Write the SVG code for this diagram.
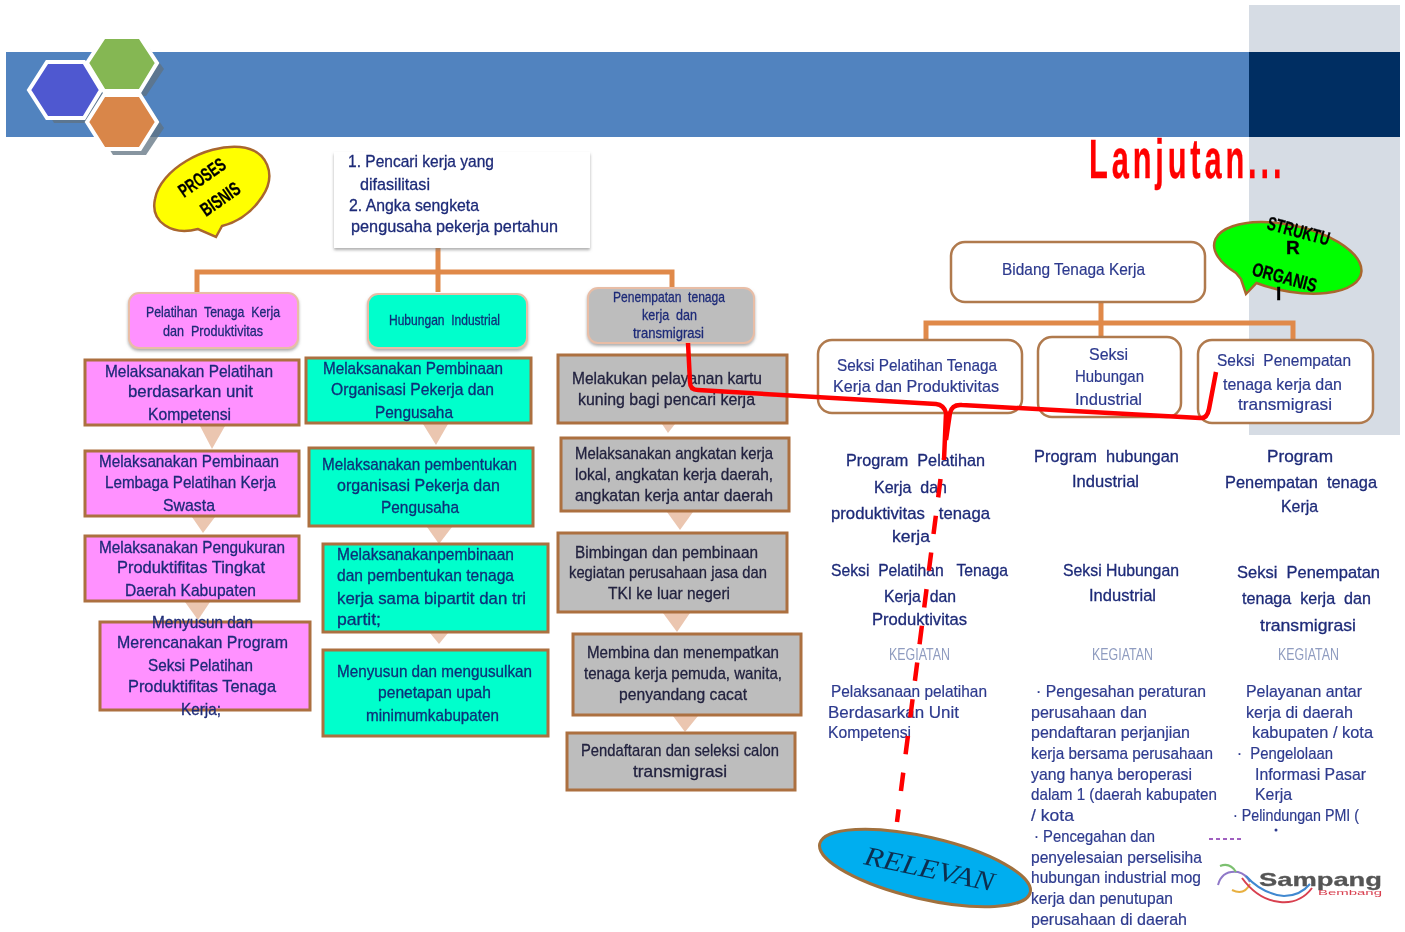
<svg xmlns="http://www.w3.org/2000/svg" width="1405" height="932" viewBox="0 0 1405 932">
<style>
text{font-family:"Liberation Sans",Arial,sans-serif;font-size:17px;fill:#1d2a78;stroke:#1d2a78;stroke-width:.3;white-space:pre}
.h{font-size:15px}
.k{font-size:16px;fill:#8f9cc0;stroke:none}
.d{fill:#22223f;stroke:#22223f}
.t{fill:#0c2f78;stroke:#0c2f78}
.r{fill:#2d3a8e;stroke:#2d3a8e;stroke-width:.2}
.b{font-weight:bold;fill:#000;stroke:#000;font-size:19px}
.box{stroke:#ac6f3f;stroke-width:3}
.pink{fill:#ff91ff}.teal{fill:#00ffcc}.gray{fill:#bdbdbd}
.head{stroke:#e8bda6;stroke-width:2;filter:url(#sh)}
.sec{fill:#fff;stroke:#b07a4e;stroke-width:2.5}
.tri{fill:#ebc6b0}
.or{fill:none;stroke:#e0894a;stroke-width:5}
.red{fill:none;stroke:#ff0000;stroke-width:4.5}
.hex{stroke:#fff;stroke-width:4}
.hs{fill:#5f7280;opacity:.75}
</style>
<defs>
<filter id="soft" x="0" y="0" width="1405" height="932" filterUnits="userSpaceOnUse"><feGaussianBlur stdDeviation="0.6"/></filter>
<filter id="sh" x="-10%" y="-10%" width="120%" height="125%"><feDropShadow dx="0" dy="2" stdDeviation="1.5" flood-color="#777" flood-opacity=".6"/></filter>
</defs>
<rect width="1405" height="932" fill="#fff"/>
<g filter="url(#soft)">
<g id="header">
<rect x="1249" y="5" width="151" height="430" fill="#d6dce4"/>
<rect x="6" y="52" width="1243" height="85" fill="#5183bf"/>
<rect x="1249" y="52" width="151" height="85" fill="#002d62"/>
<polygon class="hs" points="38,96 54,70 88,70 105,96 88,123 54,123"/>
<polygon class="hs" points="96,69 113,44 146,44 164,69 146,96 113,96"/>
<polygon class="hs" points="96,128 113,102 146,102 164,128 146,155 113,155"/>
<polygon class="hex" fill="#4f59d0" points="29,90 47,62 84,62 101,90 84,118 47,118"/>
<polygon class="hex" fill="#85b752" points="87,63 104,37 140,37 157,63 140,91 104,91"/>
<polygon class="hex" fill="#d9864a" points="87,122 104,95 140,95 157,122 140,149 104,149"/>
</g>
<g id="bubble-proses">
<path d="M222,226 L216,237 L198,229 C172,236 150,222 155,199 C160,170 205,144 240,147 C268,150 277,175 262,197 C252,212 238,222 222,226 Z" fill="#ffff00" stroke="#a9662e" stroke-width="2.5"/>
<text class="b" transform="translate(184,198) rotate(-35)" textLength="53" lengthAdjust="spacingAndGlyphs">PROSES</text>
<text class="b" transform="translate(206,217) rotate(-35)" textLength="44" lengthAdjust="spacingAndGlyphs">BISNIS</text>
</g>
<g id="title"><text transform="translate(1089,178) scale(.55,1)" style="font-size:56px;font-weight:bold;fill:#ff0000;stroke:#ff0000;letter-spacing:7px">Lanjutan...</text></g>
<g id="connectors">
<path class="or" d="M438,248V292M197,293V272H672V290"/>
<path class="or" d="M1101,302V337M926,340V323H1293V340"/>
</g>
<g id="root-box">
<rect x="334" y="152" width="256" height="96" fill="#fff" filter="url(#sh)"/>
<text x="348" y="167" textLength="146" lengthAdjust="spacingAndGlyphs">1. Pencari kerja yang</text>
<text x="360" y="190" textLength="70" lengthAdjust="spacingAndGlyphs">difasilitasi</text>
<text x="349" y="211" textLength="130" lengthAdjust="spacingAndGlyphs">2. Angka sengketa</text>
<text x="351" y="232" textLength="207" lengthAdjust="spacingAndGlyphs">pengusaha pekerja pertahun</text>
</g>
<g id="head-pelatihan"><rect class="head pink" x="129" y="293" width="169" height="55" rx="10"/>
<text class="h" x="146" y="317" textLength="134" lengthAdjust="spacingAndGlyphs">Pelatihan  Tenaga  Kerja</text>
<text class="h" x="163" y="336" textLength="100" lengthAdjust="spacingAndGlyphs">dan  Produktivitas</text></g>
<g id="head-hubungan"><rect class="head teal" x="368" y="294" width="159" height="54" rx="10"/>
<text class="h t" x="389" y="325" textLength="111" lengthAdjust="spacingAndGlyphs">Hubungan  Industrial</text></g>
<g id="head-penempatan"><rect class="head gray" x="588" y="288" width="166" height="55" rx="10"/>
<text class="h" x="613" y="302" textLength="112" lengthAdjust="spacingAndGlyphs">Penempatan  tenaga</text>
<text class="h" x="642" y="320" textLength="55" lengthAdjust="spacingAndGlyphs">kerja  dan</text>
<text class="h" x="633" y="338" textLength="71" lengthAdjust="spacingAndGlyphs">transmigrasi</text></g>
<g id="arrows">
<polygon class="tri" points="200,426 225,426 212,449"/><polygon class="tri" points="192,517 215,517 203,533"/><polygon class="tri" points="185,602 210,602 198,620"/>
<polygon class="tri" points="423,424 448,424 436,445"/><polygon class="tri" points="427,527 452,527 439,544"/><polygon class="tri" points="430,633 448,633 439,644"/>
<polygon class="tri" points="662,424 675,424 668,433"/><polygon class="tri" points="667,512 693,512 680,530"/><polygon class="tri" points="663,613 690,613 677,632"/><polygon class="tri" points="673,716 698,716 685,732"/>
</g>
<g id="pink-1"><rect class="box pink" x="85" y="360" width="214" height="65"/>
<text x="105" y="377" textLength="168" lengthAdjust="spacingAndGlyphs">Melaksanakan Pelatihan</text>
<text x="128" y="397" textLength="125" lengthAdjust="spacingAndGlyphs">berdasarkan unit</text>
<text x="148" y="420" textLength="83" lengthAdjust="spacingAndGlyphs">Kompetensi</text></g>
<g id="pink-2"><rect class="box pink" x="85" y="451" width="214" height="65"/>
<text x="99" y="467" textLength="180" lengthAdjust="spacingAndGlyphs">Melaksanakan Pembinaan</text>
<text x="105" y="488" textLength="171" lengthAdjust="spacingAndGlyphs">Lembaga Pelatihan Kerja</text>
<text x="163" y="511" textLength="52" lengthAdjust="spacingAndGlyphs">Swasta</text></g>
<g id="pink-3"><rect class="box pink" x="85" y="536" width="214" height="65"/>
<text x="99" y="553" textLength="186" lengthAdjust="spacingAndGlyphs">Melaksanakan Pengukuran</text>
<text x="117" y="573" textLength="148" lengthAdjust="spacingAndGlyphs">Produktifitas Tingkat</text>
<text x="125" y="596" textLength="131" lengthAdjust="spacingAndGlyphs">Daerah Kabupaten</text></g>
<g id="pink-4"><rect class="box pink" x="100" y="622" width="210" height="88"/>
<text x="152" y="628" textLength="101" lengthAdjust="spacingAndGlyphs">Menyusun dan</text>
<text x="117" y="648" textLength="171" lengthAdjust="spacingAndGlyphs">Merencanakan Program</text>
<text x="148" y="671" textLength="105" lengthAdjust="spacingAndGlyphs">Seksi Pelatihan</text>
<text x="128" y="692" textLength="148" lengthAdjust="spacingAndGlyphs">Produktifitas Tenaga</text>
<text x="181" y="715" textLength="40" lengthAdjust="spacingAndGlyphs">Kerja;</text></g>
<g id="teal-1"><rect class="box teal" x="306" y="358" width="225" height="65"/>
<text class="t" x="323" y="374" textLength="180" lengthAdjust="spacingAndGlyphs">Melaksanakan Pembinaan</text>
<text class="t" x="331" y="395" textLength="163" lengthAdjust="spacingAndGlyphs">Organisasi Pekerja dan</text>
<text class="t" x="375" y="418" textLength="78" lengthAdjust="spacingAndGlyphs">Pengusaha</text></g>
<g id="teal-2"><rect class="box teal" x="309" y="448" width="224" height="78"/>
<text class="t" x="322" y="470" textLength="195" lengthAdjust="spacingAndGlyphs">Melaksanakan pembentukan</text>
<text class="t" x="337" y="491" textLength="163" lengthAdjust="spacingAndGlyphs">organisasi Pekerja dan</text>
<text class="t" x="381" y="513" textLength="78" lengthAdjust="spacingAndGlyphs">Pengusaha</text></g>
<g id="teal-3"><rect class="box teal" x="323" y="544" width="225" height="88"/>
<text class="t" x="337" y="560" textLength="177" lengthAdjust="spacingAndGlyphs">Melaksanakanpembinaan</text>
<text class="t" x="337" y="581" textLength="177" lengthAdjust="spacingAndGlyphs">dan pembentukan tenaga</text>
<text class="t" x="337" y="604" textLength="189" lengthAdjust="spacingAndGlyphs">kerja sama bipartit dan tri</text>
<text class="t" x="337" y="625" textLength="44" lengthAdjust="spacingAndGlyphs">partit;</text></g>
<g id="teal-4"><rect class="box teal" x="323" y="650" width="225" height="86"/>
<text class="t" x="337" y="677" textLength="195" lengthAdjust="spacingAndGlyphs">Menyusun dan mengusulkan</text>
<text class="t" x="378" y="698" textLength="113" lengthAdjust="spacingAndGlyphs">penetapan upah</text>
<text class="t" x="366" y="721" textLength="133" lengthAdjust="spacingAndGlyphs">minimumkabupaten</text></g>
<g id="gray-1"><rect class="box gray" x="558" y="355" width="229" height="68"/>
<text class="d" x="572" y="384" textLength="190" lengthAdjust="spacingAndGlyphs">Melakukan pelayanan kartu</text>
<text class="d" x="578" y="405" textLength="177" lengthAdjust="spacingAndGlyphs">kuning bagi pencari kerja</text></g>
<g id="gray-2"><rect class="box gray" x="561" y="438" width="228" height="73"/>
<text class="d" x="575" y="459" textLength="198" lengthAdjust="spacingAndGlyphs">Melaksanakan angkatan kerja</text>
<text class="d" x="575" y="480" textLength="198" lengthAdjust="spacingAndGlyphs">lokal, angkatan kerja daerah,</text>
<text class="d" x="575" y="501" textLength="198" lengthAdjust="spacingAndGlyphs">angkatan kerja antar daerah</text></g>
<g id="gray-3"><rect class="box gray" x="558" y="533" width="229" height="79"/>
<text class="d" x="575" y="558" textLength="183" lengthAdjust="spacingAndGlyphs">Bimbingan dan pembinaan</text>
<text class="d" x="569" y="578" textLength="198" lengthAdjust="spacingAndGlyphs">kegiatan perusahaan jasa dan</text>
<text class="d" x="608" y="599" textLength="122" lengthAdjust="spacingAndGlyphs">TKI ke luar negeri</text></g>
<g id="gray-4"><rect class="box gray" x="573" y="634" width="228" height="81"/>
<text class="d" x="587" y="658" textLength="192" lengthAdjust="spacingAndGlyphs">Membina dan menempatkan</text>
<text class="d" x="584" y="679" textLength="198" lengthAdjust="spacingAndGlyphs">tenaga kerja pemuda, wanita,</text>
<text class="d" x="619" y="700" textLength="128" lengthAdjust="spacingAndGlyphs">penyandang cacat</text></g>
<g id="gray-5"><rect class="box gray" x="567" y="733" width="228" height="57"/>
<text class="d" x="581" y="756" textLength="198" lengthAdjust="spacingAndGlyphs">Pendaftaran dan seleksi calon</text>
<text class="d" x="633" y="777" textLength="94" lengthAdjust="spacingAndGlyphs">transmigrasi</text></g>
<g id="bidang"><rect class="sec" x="951" y="242" width="254" height="60" rx="14"/>
<text class="r" x="1002" y="275" textLength="143" lengthAdjust="spacingAndGlyphs">Bidang Tenaga Kerja</text></g>
<g id="bubble-struktur">
<path d="M1236,273 A75 33 12 1 1 1256.5,283 L1246,294 L1241,279 Z" fill="#00ff00" stroke="#a9662e" stroke-width="2.5"/>
<text class="b" transform="translate(1266,229) rotate(15)" textLength="64" lengthAdjust="spacingAndGlyphs">STRUKTU</text>
<text class="b" x="1286" y="254">R</text>
<text class="b" transform="translate(1251,275) rotate(15)" textLength="66" lengthAdjust="spacingAndGlyphs">ORGANIS</text>
<text class="b" x="1276" y="300">I</text>
</g>
<g id="seksi-pelatihan"><rect class="sec" x="818" y="340" width="204" height="73" rx="14"/>
<text class="r" x="837" y="371" textLength="160" lengthAdjust="spacingAndGlyphs">Seksi Pelatihan Tenaga</text>
<text class="r" x="833" y="392" textLength="166" lengthAdjust="spacingAndGlyphs">Kerja dan Produktivitas</text></g>
<g id="seksi-hubungan"><rect class="sec" x="1038" y="337" width="143" height="80" rx="14"/>
<text class="r" x="1089" y="360" textLength="39" lengthAdjust="spacingAndGlyphs">Seksi</text>
<text class="r" x="1075" y="382" textLength="69" lengthAdjust="spacingAndGlyphs">Hubungan</text>
<text class="r" x="1075" y="405" textLength="67" lengthAdjust="spacingAndGlyphs">Industrial</text></g>
<g id="seksi-penempatan"><rect class="sec" x="1198" y="340" width="175" height="83" rx="14"/>
<text class="r" x="1217" y="366" textLength="134" lengthAdjust="spacingAndGlyphs">Seksi  Penempatan</text>
<text class="r" x="1223" y="390" textLength="119" lengthAdjust="spacingAndGlyphs">tenaga kerja dan</text>
<text class="r" x="1238" y="410" textLength="94" lengthAdjust="spacingAndGlyphs">transmigrasi</text></g>
<g id="col-pelatihan">
<text x="846" y="466" textLength="139" lengthAdjust="spacingAndGlyphs">Program  Pelatihan</text>
<text x="874" y="493" textLength="73" lengthAdjust="spacingAndGlyphs">Kerja  dan</text>
<text x="831" y="519" textLength="159" lengthAdjust="spacingAndGlyphs">produktivitas   tenaga</text>
<text x="892" y="542" textLength="38" lengthAdjust="spacingAndGlyphs">kerja</text>
<text x="831" y="576" textLength="177" lengthAdjust="spacingAndGlyphs">Seksi  Pelatihan   Tenaga</text>
<text x="884" y="602" textLength="72" lengthAdjust="spacingAndGlyphs">Kerja  dan</text>
<text x="872" y="625" textLength="95" lengthAdjust="spacingAndGlyphs">Produktivitas</text>
<text class="k" x="889" y="660" textLength="61" lengthAdjust="spacingAndGlyphs">KEGIATAN</text>
<text class="r" x="831" y="697" textLength="156" lengthAdjust="spacingAndGlyphs">Pelaksanaan pelatihan</text>
<text class="r" x="828" y="718" textLength="131" lengthAdjust="spacingAndGlyphs">Berdasarkan Unit</text>
<text class="r" x="828" y="738" textLength="83" lengthAdjust="spacingAndGlyphs">Kompetensi</text>
</g>
<g id="col-hubungan">
<text x="1034" y="462" textLength="145" lengthAdjust="spacingAndGlyphs">Program  hubungan</text>
<text x="1072" y="487" textLength="67" lengthAdjust="spacingAndGlyphs">Industrial</text>
<text x="1063" y="576" textLength="116" lengthAdjust="spacingAndGlyphs">Seksi Hubungan</text>
<text x="1089" y="601" textLength="67" lengthAdjust="spacingAndGlyphs">Industrial</text>
<text class="k" x="1092" y="660" textLength="61" lengthAdjust="spacingAndGlyphs">KEGIATAN</text>
<text class="r" x="1036" y="697" textLength="170" lengthAdjust="spacingAndGlyphs">· Pengesahan peraturan</text>
<text class="r" x="1031" y="718" textLength="116" lengthAdjust="spacingAndGlyphs">perusahaan dan</text>
<text class="r" x="1031" y="738" textLength="159" lengthAdjust="spacingAndGlyphs">pendaftaran perjanjian</text>
<text class="r" x="1031" y="759" textLength="182" lengthAdjust="spacingAndGlyphs">kerja bersama perusahaan</text>
<text class="r" x="1031" y="780" textLength="161" lengthAdjust="spacingAndGlyphs">yang hanya beroperasi</text>
<text class="r" x="1031" y="800" textLength="186" lengthAdjust="spacingAndGlyphs">dalam 1 (daerah kabupaten</text>
<text class="r" x="1031" y="821" textLength="43" lengthAdjust="spacingAndGlyphs">/ kota</text>
<text class="r" x="1034" y="842" textLength="121" lengthAdjust="spacingAndGlyphs">· Pencegahan dan</text>
<text class="r" x="1031" y="863" textLength="171" lengthAdjust="spacingAndGlyphs">penyelesaian perselisiha</text>
<text class="r" x="1031" y="883" textLength="170" lengthAdjust="spacingAndGlyphs">hubungan industrial mog</text>
<text class="r" x="1031" y="904" textLength="142" lengthAdjust="spacingAndGlyphs">kerja dan penutupan</text>
<text class="r" x="1031" y="925" textLength="156" lengthAdjust="spacingAndGlyphs">perusahaan di daerah</text>
</g>
<g id="col-penempatan">
<text x="1267" y="462" textLength="66" lengthAdjust="spacingAndGlyphs">Program</text>
<text x="1225" y="488" textLength="152" lengthAdjust="spacingAndGlyphs">Penempatan  tenaga</text>
<text x="1281" y="512" textLength="37" lengthAdjust="spacingAndGlyphs">Kerja</text>
<text x="1237" y="578" textLength="143" lengthAdjust="spacingAndGlyphs">Seksi  Penempatan</text>
<text x="1242" y="604" textLength="129" lengthAdjust="spacingAndGlyphs">tenaga  kerja  dan</text>
<text x="1260" y="631" textLength="96" lengthAdjust="spacingAndGlyphs">transmigrasi</text>
<text class="k" x="1278" y="660" textLength="61" lengthAdjust="spacingAndGlyphs">KEGIATAN</text>
<text class="r" x="1246" y="697" textLength="116" lengthAdjust="spacingAndGlyphs">Pelayanan antar</text>
<text class="r" x="1246" y="718" textLength="107" lengthAdjust="spacingAndGlyphs">kerja di daerah</text>
<text class="r" x="1252" y="738" textLength="121" lengthAdjust="spacingAndGlyphs">kabupaten / kota</text>
<text class="r" x="1237" y="759" textLength="96" lengthAdjust="spacingAndGlyphs">·  Pengelolaan</text>
<text class="r" x="1255" y="780" textLength="111" lengthAdjust="spacingAndGlyphs">Informasi Pasar</text>
<text class="r" x="1255" y="800" textLength="37" lengthAdjust="spacingAndGlyphs">Kerja</text>
<text class="r" x="1233" y="821" textLength="126" lengthAdjust="spacingAndGlyphs">· Pelindungan PMI (</text>
</g>
<g id="red-lines">
<path class="red" d="M688,343L690,382Q690,390 698,390L936,404Q944,405 946,413L944,460M1216,372L1209,409Q1207,419 1200,418L962,405Q952,404 950,413L946,440"/>
<path class="red" d="M940.5,479L897,822" stroke-dasharray="18.5 18.5"/>
</g>
<g id="relevan">
<ellipse cx="925" cy="868" rx="108" ry="31" transform="rotate(13 925 868)" fill="#00aeef" stroke="#a0703c" stroke-width="3"/>
<text transform="translate(863,864) rotate(12)" style="font-family:'Liberation Serif',serif;font-style:italic;font-size:27px;fill:#0a2f50;stroke:none" textLength="132" lengthAdjust="spacingAndGlyphs">RELEVAN</text>
</g>
<g id="logo">
<circle cx="1276" cy="830" r="1.5" fill="#2d3a8e"/>
<path d="M1209,839H1242" stroke="#a060c0" stroke-width="2" stroke-dasharray="4 3" fill="none"/>
<path d="M1218,885Q1222,870 1238,872Q1246,874 1250,882" fill="none" stroke="#8f78c8" stroke-width="2"/>
<path d="M1220,866Q1230,862 1236,872" fill="none" stroke="#7cc070" stroke-width="2"/>
<path d="M1232,890Q1244,896 1250,884" fill="none" stroke="#e8b040" stroke-width="2"/>
<path d="M1242,878Q1258,900 1280,902Q1300,904 1312,888" fill="none" stroke="#d84050" stroke-width="2"/>
<path d="M1246,876Q1262,894 1284,896Q1300,896 1310,884" fill="none" stroke="#3f88d0" stroke-width="2"/>
<text x="1259" y="886" style="font-size:19px;font-weight:bold;fill:#555;stroke:#555" textLength="123" lengthAdjust="spacingAndGlyphs">Sampang</text>
<text x="1318" y="895" style="font-size:8px;fill:#d84050;stroke:none" textLength="64" lengthAdjust="spacingAndGlyphs">Bembang</text>
</g>
</g>
</svg>
